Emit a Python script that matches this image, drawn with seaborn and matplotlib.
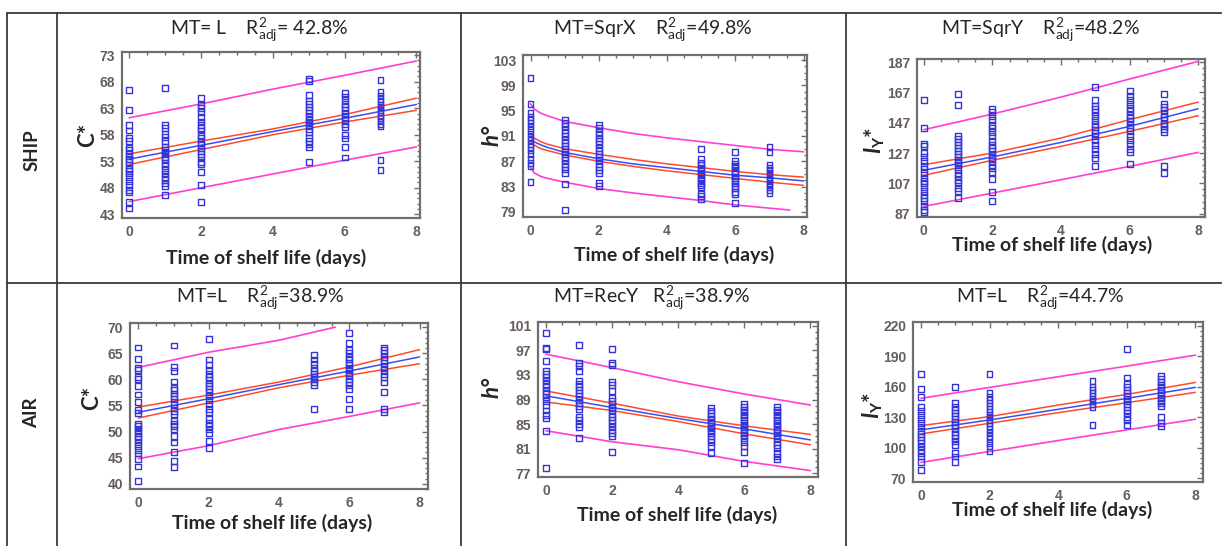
import numpy as np
import pandas as pd
import matplotlib
matplotlib.use("Agg")
import matplotlib.pyplot as plt
from matplotlib.lines import Line2D
from matplotlib.ticker import AutoMinorLocator
from matplotlib import font_manager
import seaborn as sns

# ---------------------------------------------------------------- data
days = [0, 1, 2, 5, 6, 7]

# SHIP, chroma C*
ship_chroma = {
    0: [66.4, 62.7, 59.8, 58.8, 57.4, 56.8, 55.6, 55.1, 54.4, 53.9, 53.4, 52.9,
        52.3, 51.6, 51.1, 50.7, 50.1, 49.3, 48.5, 47.6, 47.1, 45.4, 44.1],
    1: [66.8, 59.8, 59.3, 58.2, 57.6, 56.8, 55.7, 55.2, 54.8, 54.3, 53.8, 53.4,
        52.7, 52.1, 51.4, 50.7, 50.1, 49.4, 48.8, 48.3, 46.6],
    2: [64.9, 63.6, 63.0, 62.3, 61.4, 60.5, 59.8, 59.3, 58.8, 58.0, 57.4, 56.6,
        56.1, 55.4, 54.9, 54.3, 53.8, 52.9, 52.4, 51.0, 48.5, 45.4],
    5: [68.5, 68.2, 65.5, 64.4, 63.8, 63.2, 62.7, 62.1, 61.4, 60.8, 60.4, 59.8,
        59.1, 58.5, 57.4, 56.8, 56.3, 55.6, 52.9],
    6: [65.8, 65.2, 64.6, 63.8, 63.2, 62.6, 62.0, 61.3, 60.7, 60.1, 59.4, 57.9,
        57.3, 55.7, 53.7],
    7: [68.3, 66.1, 65.4, 64.8, 64.1, 63.6, 63.2, 62.7, 62.3, 61.6, 61.2, 60.6,
        60.1, 59.6, 53.2, 51.3],
}
ship_chroma_curves = {
    "fit":     ([0, 2, 4, 6, 8], [53.4, 56.0, 58.6, 61.1, 63.7]),
    "conf_hi": ([0, 2, 4, 6, 8], [54.4, 56.8, 59.1, 61.8, 64.9]),
    "conf_lo": ([0, 2, 4, 6, 8], [52.4, 55.2, 58.0, 60.4, 62.6]),
    "pred_hi": ([0, 2, 4, 6, 8], [61.2, 63.8, 66.6, 69.2, 71.9]),
    "pred_lo": ([0, 2, 4, 6, 8], [45.4, 48.0, 50.6, 53.2, 55.7]),
}

# SHIP, hue angle h°
ship_hue = {
    0: [100.1, 96.1, 94.6, 94.0, 93.5, 93.0, 92.5, 91.9, 91.4, 90.9, 90.3, 89.8,
        89.3, 88.8, 88.1, 87.4, 86.8, 86.2, 83.7],
    1: [93.5, 93.1, 92.6, 92.0, 91.5, 91.0, 90.4, 89.9, 89.4, 88.9, 88.5, 88.1,
        87.7, 87.2, 86.6, 86.1, 85.7, 85.2, 83.4, 79.3],
    2: [92.7, 92.2, 91.7, 91.1, 90.6, 90.2, 89.7, 89.1, 88.6, 88.1, 87.7, 87.2,
        86.6, 86.1, 85.6, 85.1, 83.6, 83.1],
    5: [89.0, 87.3, 86.8, 86.4, 86.0, 85.6, 85.2, 84.8, 84.4, 84.0, 83.6, 83.2,
        82.9, 81.9, 81.5, 81.1],
    6: [88.5, 87.1, 86.6, 86.2, 85.9, 85.5, 85.1, 84.6, 84.3, 83.9, 83.5, 83.1,
        82.7, 82.2, 81.8, 80.4],
    7: [89.2, 88.5, 86.4, 86.0, 85.6, 85.2, 84.8, 84.4, 84.0, 83.6, 83.2, 82.9,
        82.4, 82.0],
}
hue_knots = [0, 0.1, 0.3, 0.5, 1, 2, 3, 4, 5, 6, 7, 8]
ship_hue_curves = {
    "fit":     (hue_knots, [90.9, 90.1, 89.6, 89.2, 88.4, 87.4, 86.6, 86.0, 85.4, 84.8, 84.4, 83.9]),
    "conf_hi": (hue_knots, [91.4, 90.7, 90.1, 89.7, 89.0, 88.1, 87.3, 86.6, 86.0, 85.4, 84.9, 84.5]),
    "conf_lo": (hue_knots, [90.3, 89.6, 89.0, 88.7, 88.0, 87.0, 86.2, 85.5, 84.9, 84.3, 83.7, 83.2]),
    "pred_hi": (hue_knots, [96.1, 95.3, 94.6, 94.2, 93.3, 92.3, 91.4, 90.7, 90.1, 89.5, 88.9, 88.5]),
    "pred_lo": ([0, 0.1, 0.3, 0.5, 1, 2, 3, 4, 5, 6, 7, 7.6],
                [86.1, 85.2, 84.6, 84.3, 83.7, 82.7, 82.0, 81.4, 80.8, 80.1, 79.6, 79.3]),
}

# SHIP, yellowness index I_Y*
ship_lum = {
    0: [161.7, 143.5, 133.2, 131.4, 127.0, 124.4, 121.5, 118.2, 116.5, 113.8,
        110.5, 108.3, 107.2, 104.6, 101.7, 99.5, 97.3, 95.1, 91.8, 89.6, 88.1],
    1: [165.9, 158.4, 138.4, 136.2, 134.0, 132.5, 130.3, 128.1, 126.3, 124.4,
        122.6, 120.8, 118.9, 116.5, 113.8, 111.6, 109.4, 107.2, 103.9, 101.7, 97.3],
    2: [156.0, 153.8, 151.2, 149.0, 145.7, 143.5, 140.6, 138.0, 135.1, 132.5,
        130.3, 128.1, 125.9, 123.7, 121.5, 119.3, 117.1, 114.3, 109.9, 101.1, 95.1],
    5: [170.3, 162.2, 157.8, 156.0, 153.8, 151.6, 149.0, 146.3, 144.1, 142.4,
        140.2, 138.0, 135.4, 132.5, 129.6, 126.6, 123.7, 118.6],
    6: [167.7, 164.8, 162.2, 159.5, 156.7, 154.5, 152.3, 150.1, 147.9, 145.7,
        143.5, 141.3, 138.4, 135.8, 132.9, 129.6, 127.4, 119.9],
    7: [165.9, 159.5, 157.3, 155.1, 152.9, 150.7, 148.5, 146.3, 144.6, 142.8,
        140.6, 118.2, 113.8],
}
ship_lum_curves = {
    "fit":     ([0, 2, 4, 6, 8], [115.6, 124.4, 134.0, 144.6, 156.2]),
    "conf_hi": ([0, 2, 4, 6, 8], [119.3, 127.0, 136.9, 149.0, 160.6]),
    "conf_lo": ([0, 2, 4, 6, 8], [112.3, 122.2, 131.4, 141.3, 151.6]),
    "pred_hi": ([0, 2, 4, 6, 8], [142.4, 152.7, 163.9, 175.8, 187.4]),
    "pred_lo": ([0, 2, 4, 6, 8], [91.8, 100.6, 109.4, 118.2, 127.4]),
}

# AIR, chroma C*
air_chroma = {
    0: [66.1, 63.9, 62.2, 61.8, 60.4, 60.1, 58.7, 57.1, 55.7, 54.1, 53.5, 51.5,
        51.1, 50.6, 50.1, 49.7, 49.2, 48.5, 47.9, 47.3, 46.5, 45.8, 44.8, 43.3, 40.5],
    1: [66.5, 62.4, 61.6, 59.6, 58.4, 57.9, 57.3, 56.8, 56.2, 55.2, 54.6, 53.9,
        53.3, 52.0, 51.5, 51.1, 50.4, 49.2, 47.9, 46.1, 44.4, 43.2],
    2: [67.8, 63.8, 62.7, 61.8, 61.1, 60.4, 59.9, 59.2, 58.7, 58.1, 57.5, 56.8,
        56.1, 55.2, 54.4, 53.8, 52.4, 51.6, 51.1, 50.4, 49.8, 48.2, 46.9],
    5: [64.6, 63.8, 62.9, 62.2, 61.6, 61.0, 60.5, 60.0, 59.5, 59.0, 54.3],
    6: [68.8, 66.9, 65.6, 65.0, 64.3, 63.8, 63.2, 62.7, 62.2, 61.8, 61.3, 60.8,
        60.1, 59.5, 58.9, 58.2, 56.3, 54.4],
    7: [66.1, 65.6, 65.0, 64.3, 63.7, 63.1, 62.4, 61.8, 61.1, 60.5, 59.4, 57.6,
        54.4, 53.8],
}
air_chroma_curves = {
    "fit":     ([0, 2, 4, 6, 8], [53.7, 56.3, 59.0, 61.6, 64.3]),
    "conf_hi": ([0, 2, 4, 6, 8], [54.7, 57.0, 59.5, 62.4, 65.7]),
    "conf_lo": ([0, 2, 4, 6, 8], [52.6, 55.5, 58.4, 60.8, 63.0]),
    "pred_hi": ([0, 2, 4, 5.6], [62.3, 65.2, 67.5, 70.0]),
    "pred_lo": ([0, 2, 4, 6, 8], [44.8, 47.3, 50.4, 52.9, 55.5]),
}

# AIR, hue angle h°
air_hue = {
    0: [99.9, 97.4, 97.2, 95.3, 93.7, 93.1, 92.6, 92.1, 91.5, 91.0, 90.4, 89.9,
        89.4, 88.8, 88.1, 87.2, 86.5, 85.9, 83.9, 77.8],
    1: [97.9, 94.9, 94.4, 93.7, 92.1, 91.5, 91.1, 90.5, 90.0, 89.5, 88.9, 88.5,
        87.9, 87.4, 86.1, 85.7, 85.0, 84.5, 82.7],
    2: [97.2, 94.9, 94.6, 91.9, 91.4, 90.4, 89.2, 88.8, 88.3, 87.7, 87.2, 86.6,
        86.1, 85.7, 85.1, 84.6, 84.0, 83.5, 83.1, 80.4],
    5: [87.7, 87.2, 86.8, 86.3, 85.9, 85.6, 85.1, 84.7, 84.3, 83.9, 83.5, 83.1,
        82.5, 82.0, 81.4, 80.3],
    6: [88.3, 87.8, 87.3, 86.9, 86.5, 86.1, 85.7, 85.2, 84.9, 84.5, 84.0, 83.6,
        83.2, 82.7, 82.1, 81.4, 80.5, 78.7],
    7: [87.8, 87.3, 86.9, 86.5, 86.1, 85.7, 85.2, 84.9, 84.5, 84.0, 83.6, 83.2,
        82.7, 82.1, 81.6, 81.1, 80.3, 79.7, 79.2],
}
air_hue_curves = {
    "fit":     ([0, 2, 4, 6, 8], [89.6, 87.7, 85.9, 84.2, 82.4]),
    "conf_hi": ([0, 2, 4, 6, 8], [90.4, 88.4, 86.3, 84.7, 83.3]),
    "conf_lo": ([0, 2, 4, 6, 8], [88.6, 87.2, 85.4, 83.4, 81.6]),
    "pred_hi": ([0, 2, 4, 6, 8], [96.4, 94.2, 91.9, 89.9, 88.1]),
    "pred_lo": ([0, 2, 4, 6, 8], [83.9, 82.1, 80.8, 78.9, 77.4]),
}

# AIR, yellowness index I_Y*
air_lum = {
    0: [172.5, 157.4, 150.2, 140.4, 136.5, 132.2, 128.0, 124.0, 120.8, 116.8,
        113.5, 110.9, 107.7, 104.4, 101.1, 97.8, 94.6, 91.3, 85.4, 77.5],
    1: [160.1, 143.7, 140.4, 137.1, 133.9, 131.2, 128.0, 125.3, 122.4, 119.1,
        115.8, 112.6, 109.3, 106.0, 102.7, 94.6, 91.3, 85.4],
    2: [172.5, 153.5, 150.2, 147.0, 143.7, 141.1, 137.8, 135.2, 132.2, 129.9,
        127.3, 124.7, 121.4, 118.1, 114.9, 111.6, 108.3, 104.4, 101.1, 96.2],
    5: [166.0, 160.1, 156.8, 153.5, 150.9, 148.3, 145.6, 143.0, 140.4, 122.4],
    6: [197.1, 169.2, 162.4, 159.4, 156.8, 153.5, 150.9, 148.3, 145.6, 143.0,
        140.4, 137.1, 133.9, 129.9, 127.3, 122.4],
    7: [170.5, 167.9, 165.0, 161.7, 159.4, 156.8, 154.2, 151.5, 148.9, 146.3,
        143.7, 141.1, 130.6, 124.7, 121.4],
}
air_lum_curves = {
    "fit":     ([0, 2, 4, 6, 8], [117.5, 127.3, 137.8, 148.6, 159.4]),
    "conf_hi": ([0, 2, 4, 6, 8], [121.7, 130.6, 142.0, 152.5, 164.3]),
    "conf_lo": ([0, 2, 4, 6, 8], [113.5, 124.0, 134.5, 144.3, 154.5]),
    "pred_hi": ([0, 2, 4, 6, 8], [148.6, 159.4, 169.9, 180.4, 191.2]),
    "pred_lo": ([0, 2, 4, 6, 8], [85.4, 96.2, 107.0, 117.5, 128.0]),
}

titles = [
    "MT= L    $\\mathregular{R^{2}_{adj}}$= 42.8%",
    "MT=SqrX    $\\mathregular{R^{2}_{adj}}$=49.8%",
    "MT=SqrY    $\\mathregular{R^{2}_{adj}}$=48.2%",
    "MT=L    $\\mathregular{R^{2}_{adj}}$=38.9%",
    "MT=RecY   $\\mathregular{R^{2}_{adj}}$=38.9%",
    "MT=L    $\\mathregular{R^{2}_{adj}}$=44.7%",
]
row_labels = ["SHIP", "AIR"]
x_label = "Time of shelf life (days)"
y_labels = ["C*", "h°", "$I_{\\mathrm{Y}}$*", "C*", "h°", "$I_{\\mathrm{Y}}$*"]
x_ticks = [0, 2, 4, 6, 8]
y_ticks = [
    list(range(43, 74, 5)),
    list(range(79, 104, 4)),
    list(range(87, 188, 20)),
    list(range(40, 71, 5)),
    list(range(77, 102, 4)),
    list(range(70, 221, 30)),
]

# ---------------------------------------------------------------- style
sns.set_style("white")
available = {f.name for f in font_manager.fontManager.ttflist}
main_font = "Lato" if "Lato" in available else "DejaVu Sans"
tick_font = next((f for f in ["Liberation Sans Narrow", "Liberation Sans", "DejaVu Sans"]
                  if f in available), "DejaVu Sans")
plt.rcParams["font.family"] = [main_font, "DejaVu Sans"]
plt.rcParams["mathtext.fontset"] = "custom"
plt.rcParams["mathtext.rm"] = f"{main_font}:bold"
plt.rcParams["mathtext.bf"] = f"{main_font}:bold"
plt.rcParams["mathtext.it"] = f"{main_font}:italic:bold"

W, H = 1222, 546
fig = plt.figure(figsize=(W / 100, H / 100), dpi=100)
fig.patch.set_facecolor("white")


def fx(px):
    return px / W


def fy(py):
    return 1 - py / H


# table grid
grid_kw = dict(color="#3a3a3a", lw=1.3, transform=fig.transFigure)
for yy in (13, 283):
    fig.add_artist(Line2D([fx(7), 1.0], [fy(yy), fy(yy)], **grid_kw))
for xx in (7, 57, 461, 846):
    fig.add_artist(Line2D([fx(xx), fx(xx)], [fy(13), 0.0], **grid_kw))

fig.text(fx(32), fy(150), row_labels[0], rotation=90, ha="center", va="center",
         fontsize=13.5, fontweight="bold")
fig.text(fx(32), fy(413), row_labels[1], rotation=90, ha="center", va="center",
         fontsize=13.5, fontweight="bold")

# axes boxes in pixels: left, right, top, bottom
boxes = [(122, 420, 52, 218), (523, 807, 55, 217), (917, 1205, 59, 217),
         (130, 428, 323, 489), (538, 818, 322, 477), (913, 1203, 322, 482)]
xlims = [(-0.2, 8.1), (-0.22, 8.1), (-0.2, 8.2),
         (-0.24, 8.24), (-0.24, 8.23), (-0.23, 8.22)]
ylims = [(42.3, 73.6), (78.2, 103.8), (84.8, 189.0),
         (39.0, 70.8), (76.35, 101.65), (66.1, 223.9)]
y_minor = [5, 4, 5, 5, 4, 6]
title_pos = [(259, 30), (653, 30), (1040, 30), (260, 298), (652, 298), (1040, 298)]
xlabel_pos = [(266, 258), (674, 255), (1052, 245), (272, 523), (677, 515), (1052, 510)]
ylabel_pos = [(88, 135), (492, 135), (875, 140), (92, 398), (492, 387), (873, 405)]

points = [ship_chroma, ship_hue, ship_lum, air_chroma, air_hue, air_lum]
curves = [ship_chroma_curves, ship_hue_curves, ship_lum_curves,
          air_chroma_curves, air_hue_curves, air_lum_curves]

curve_style = {
    "pred_hi": ("#ff3fd2", 1.2),
    "pred_lo": ("#ff3fd2", 1.2),
    "conf_hi": ("#ff4a2a", 1.1),
    "conf_lo": ("#ff4a2a", 1.1),
    "fit": ("#3a4ef0", 1.1),
}
frame_col = "#6e6e6e"
tick_col = "#665c58"

for i in range(6):
    L, R, T, B = boxes[i]
    ax = fig.add_axes([fx(L), fy(B), (R - L) / W, (B - T) / H])
    df = pd.DataFrame(
        [(d, v) for d, vals in points[i].items() for v in vals],
        columns=["day", "value"],
    )
    for key, (col, lw) in curve_style.items():
        xs, ys = curves[i][key]
        sns.lineplot(x=xs, y=ys, ax=ax, color=col, linewidth=lw,
                     estimator=None, sort=False, legend=False, zorder=2)
    sns.scatterplot(data=df, x="day", y="value", ax=ax, marker="s", s=18,
                    facecolors="none", edgecolor="#3434d8", linewidth=1.0,
                    legend=False, zorder=3)

    ax.set_xlim(*xlims[i])
    ax.set_ylim(*ylims[i])
    ax.set_xticks(x_ticks)
    ax.set_yticks(y_ticks[i])
    ax.xaxis.set_minor_locator(AutoMinorLocator(4))
    ax.yaxis.set_minor_locator(AutoMinorLocator(y_minor[i]))
    ax.set_xlabel("")
    ax.set_ylabel("")
    ax.tick_params(which="both", direction="in", top=True, right=True,
                   color=frame_col, width=1.0)
    ax.tick_params(which="major", length=4, pad=5)
    ax.tick_params(which="minor", length=2.5)
    for lab in ax.get_xticklabels() + ax.get_yticklabels():
        lab.set_fontfamily(tick_font)
        lab.set_fontweight("bold")
        lab.set_fontsize(10)
        lab.set_color(tick_col)
    for sp in ax.spines.values():
        sp.set_visible(True)
        sp.set_color(frame_col)
        sp.set_linewidth(1.6)

    tx, ty = title_pos[i]
    fig.text(fx(tx), fy(ty), titles[i], ha="center", va="center", fontsize=14)
    lx, ly = xlabel_pos[i]
    fig.text(fx(lx), fy(ly), x_label, ha="center", va="center",
             fontsize=14, fontweight="bold")
    yx, yy = ylabel_pos[i]
    style = "italic" if y_labels[i].startswith("h") else "normal"
    fig.text(fx(yx), fy(yy), y_labels[i], rotation=90, ha="center", va="center",
             fontsize=16, fontweight="bold", fontstyle=style)

fig.savefig("out.png", dpi=100, facecolor="white")
